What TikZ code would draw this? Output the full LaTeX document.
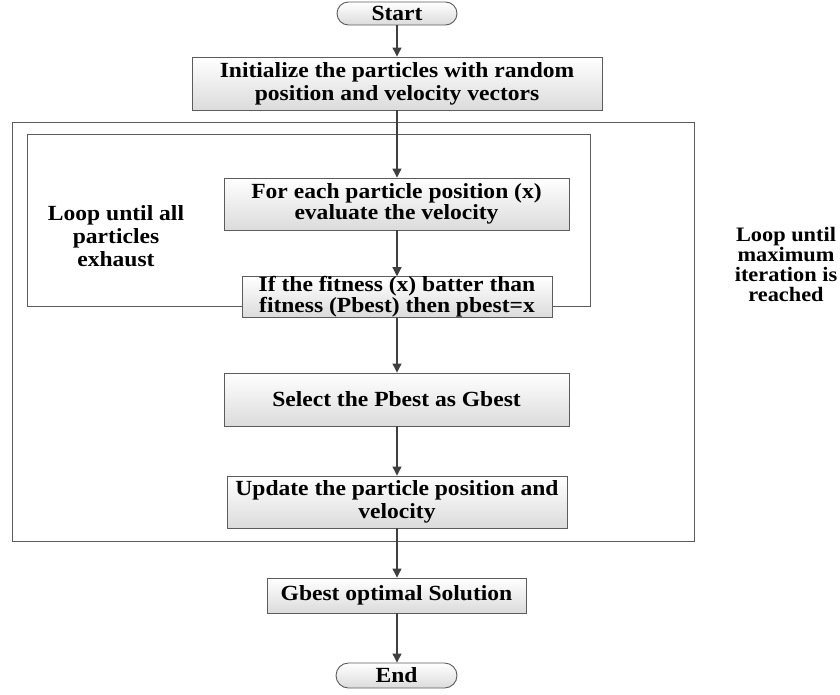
\documentclass[tikz,border=0pt]{standalone}
\usepackage{fontspec}
\setmainfont{Liberation Serif}
\newfontfamily\labelfont[FakeStretch=1.09]{Liberation Serif}
\usetikzlibrary{arrows.meta}
\definecolor{edgegray}{HTML}{5C5C5C}
\definecolor{arrowgray}{HTML}{3F3F3F}
\newcommand{\txtsize}[2]{\labelfont\bfseries\fontsize{#1}{#2}\selectfont}
\begin{document}
\begin{tikzpicture}[x=1pt,y=-1pt,
  every node/.style={font=\txtsize{21.6}{23}, align=center, inner sep=0pt},
  procbox/.style={draw=edgegray, line width=0.9pt, shading=axis, top color=white, bottom color=black!14},
  termbox/.style={draw=edgegray, line width=0.9pt, rounded corners=11.5pt, shading=axis, top color=white, bottom color=black!14},
  flow/.style={draw=arrowgray, line width=1.1pt, -{Triangle[length=9pt,width=9pt]}},
  frame/.style={draw=edgegray, line width=0.9pt}]
\useasboundingbox (0,0) rectangle (840,694);

% loop frames
\draw[frame] (12,122.5) rectangle (694,541);
\draw[frame] (27,134.5) rectangle (590,306);

% flow steps
\node[termbox, minimum width=120pt, minimum height=23pt] (start) at (397,13.5) {Start};
\node[procbox, minimum width=410pt, minimum height=53pt] (init) at (397,83.5) {Initialize the particles with random\\position and velocity vectors};
\node[procbox, minimum width=345pt, minimum height=52pt, font=\txtsize{21.6}{20.5}] (each) at (396.5,204) {For each particle position (x)\\evaluate the velocity};
\node[procbox, minimum width=310pt, minimum height=34pt, font=\txtsize{21.6}{17.5}] (fit) at (397,297) {If the fitness (x) batter than\\fitness (Pbest) then pbest=x};
\node[procbox, minimum width=345pt, minimum height=53pt] (sel) at (396.5,399.5) {Select the Pbest as Gbest};
\node[procbox, minimum width=340pt, minimum height=52pt] (upd) at (397,502) {Update the particle position and\\velocity};
\node[procbox, minimum width=259pt, minimum height=35pt] (gb) at (396.5,595.5) {Gbest optimal Solution};
\node[termbox, minimum width=121pt, minimum height=25pt, rounded corners=12.5pt] (end) at (396.5,675.5) {End};

% loop labels
\node (inner) at (116,236) {Loop until all\\particles\\exhaust};
\node[font=\txtsize{20.5}{20}] (outer) at (786,264) {Loop until\\maximum\\iteration is\\reached};

% connectors
\draw[flow] (start.south) -- (start.south |- init.north);
\draw[flow] (init.south -| start.south) -- (start.south |- each.north);
\draw[flow] (each.south -| start.south) -- (start.south |- fit.north);
\draw[flow] (fit.south -| start.south) -- (start.south |- sel.north);
\draw[flow] (sel.south -| start.south) -- (start.south |- upd.north);
\draw[flow] (upd.south -| start.south) -- (start.south |- gb.north);
\draw[flow] (gb.south -| start.south) -- (start.south |- end.north);
\end{tikzpicture}
\end{document}
